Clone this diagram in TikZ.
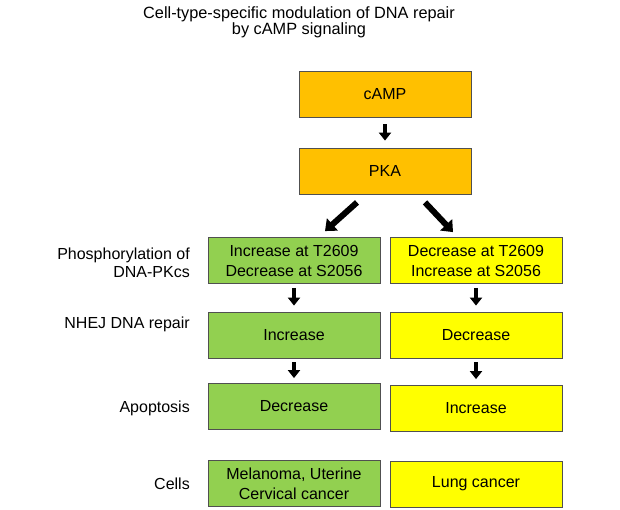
\documentclass[tikz,border=0pt]{standalone}
\usepackage{fontspec}
\setmainfont{Liberation Sans}
\usetikzlibrary{arrows.meta,calc}
\definecolor{orangebox}{HTML}{FFC000}
\definecolor{greenbox}{HTML}{92D050}
\definecolor{yellowbox}{HTML}{FFFF00}
\definecolor{edgegray}{HTML}{505050}
\tikzset{
  box/.style={draw=edgegray, line width=0.8pt, minimum width=172pt, minimum height=46pt, inner sep=0pt, align=center, font=\fontsize{16}{20}\selectfont},
  obox/.style={box, fill=orangebox},
  gbox/.style={box, fill=greenbox},
  ybox/.style={box, fill=yellowbox},
  lbl/.style={anchor=east, align=right, font=\fontsize{16}{17.5}\selectfont, inner sep=0pt},
  blk/.style={line width=4.5pt, -{Triangle[width=12pt,length=8pt]}},
  blkd/.style={line width=6pt, -{Triangle[width=16pt,length=10pt]}},
}
\begin{document}
\begin{tikzpicture}[x=1pt,y=-1pt]
\useasboundingbox (0,0) rectangle (620,509);
\node[font=\fontsize{16.3}{16.5}\selectfont, align=center] (title) at (299,22.5) {Cell-type-specific modulation of DNA repair\\by cAMP signaling};

\node[obox] (camp) at (385,94) {cAMP};
\node[obox] (pka) at (385,171) {PKA};

\node[gbox] (g1) at (294,260.5) {Increase at T2609\\Decrease at S2056};
\node[ybox] (y1) at (476,260.5) {Decrease at T2609\\Increase at S2056};
\node[gbox] (g2) at (294,335) {Increase};
\node[ybox] (y2) at (476,335) {Decrease};
\node[gbox] (g3) at (294,406.5) {Decrease};
\node[ybox] (y3) at (476,408.5) {Increase};
\node[gbox] (g4) at (294,483.5) {Melanoma, Uterine\\Cervical cancer};
\node[ybox] (y4) at (476,484) {Lung cancer};

\node[lbl] (l1) at (190,263) {Phosphorylation of\\DNA-PKcs};
\node[lbl] (l2) at (190,324) {NHEJ DNA repair};
\node[lbl] (l3) at (190,408) {Apoptosis};
\node[lbl] (l4) at (190,484) {Cells};

\draw[blk] ($(camp.south)+(0,7)$) -- ($(pka.north)+(0,-7)$);
\draw[blkd] ($(pka.south)+(-28,8)$) -- ($(g1.north)+(31,-6)$);
\draw[blkd] ($(pka.south)+(40,8)$) -- ($(y1.north)+(-23,-5)$);
\draw[blk] ($(g1.south)+(0,4)$) -- ($(g2.north)+(0,-6)$);
\draw[blk] ($(y1.south)+(0,4)$) -- ($(y2.north)+(0,-6)$);
\draw[blk] ($(g2.south)+(0,4)$) -- ($(g3.north)+(0,-5)$);
\draw[blk] ($(y2.south)+(0,4)$) -- ($(y3.north)+(0,-6)$);
\end{tikzpicture}
\end{document}
